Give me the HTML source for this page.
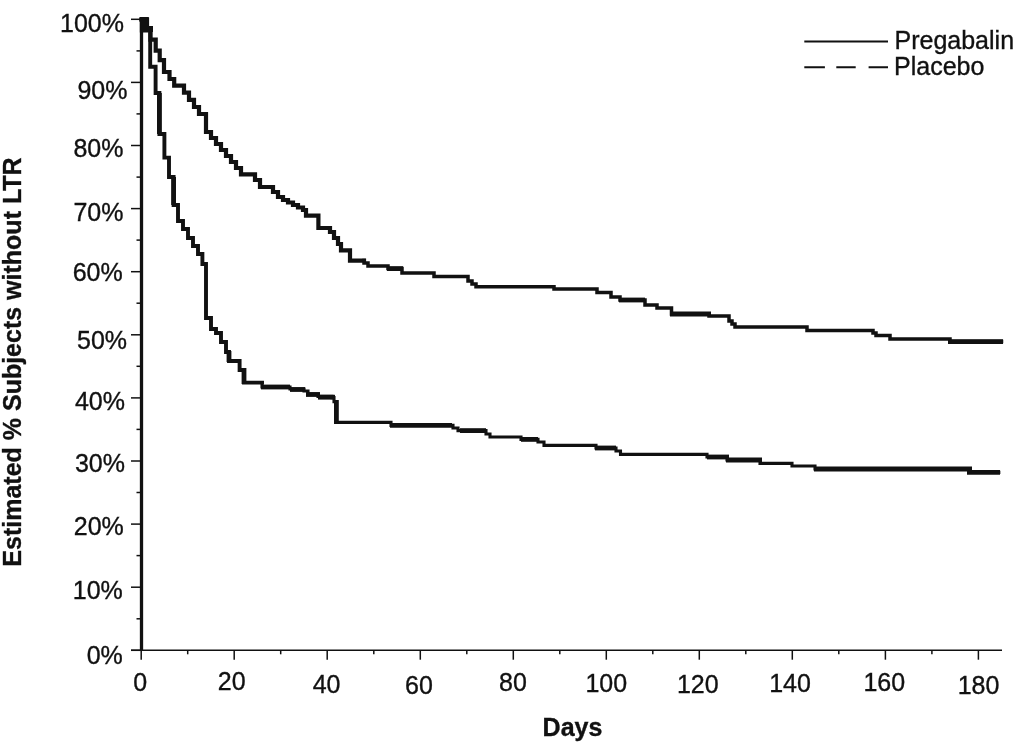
<!DOCTYPE html>
<html lang="en"><head><meta charset="utf-8"><title>Kaplan-Meier: Pregabalin vs Placebo</title>
<style>
html,body{margin:0;padding:0;background:#fff;}
svg{display:block;}
text{font-family:"Liberation Sans",Arial,Helvetica,sans-serif;fill:#111;stroke:#111;stroke-width:0.35px;}
.t{font-size:25px;}
.b{font-size:25px;font-weight:bold;}
</style></head><body>
<svg width="1030" height="742" viewBox="0 0 1030 742">
<rect width="1030" height="742" fill="#fff"/>

<g stroke="#111" fill="none">
<line x1="141.5" y1="18" x2="141.5" y2="651" stroke-width="3.3"/>
<line x1="131" y1="650.3" x2="1002" y2="650.3" stroke-width="1.6"/>
<line x1="131" y1="650.3" x2="141" y2="650.3" stroke-width="1.5"/>
<line x1="136.5" y1="618.8" x2="141" y2="618.8" stroke-width="1.5"/>
<line x1="131" y1="587.2" x2="141" y2="587.2" stroke-width="1.5"/>
<line x1="136.5" y1="555.6" x2="141" y2="555.6" stroke-width="1.5"/>
<line x1="131" y1="524.1" x2="141" y2="524.1" stroke-width="1.5"/>
<line x1="136.5" y1="492.5" x2="141" y2="492.5" stroke-width="1.5"/>
<line x1="131" y1="461.0" x2="141" y2="461.0" stroke-width="1.5"/>
<line x1="136.5" y1="429.4" x2="141" y2="429.4" stroke-width="1.5"/>
<line x1="131" y1="397.9" x2="141" y2="397.9" stroke-width="1.5"/>
<line x1="136.5" y1="366.3" x2="141" y2="366.3" stroke-width="1.5"/>
<line x1="131" y1="334.8" x2="141" y2="334.8" stroke-width="1.5"/>
<line x1="136.5" y1="303.2" x2="141" y2="303.2" stroke-width="1.5"/>
<line x1="131" y1="271.7" x2="141" y2="271.7" stroke-width="1.5"/>
<line x1="136.5" y1="240.1" x2="141" y2="240.1" stroke-width="1.5"/>
<line x1="131" y1="208.6" x2="141" y2="208.6" stroke-width="1.5"/>
<line x1="136.5" y1="177.1" x2="141" y2="177.1" stroke-width="1.5"/>
<line x1="131" y1="145.5" x2="141" y2="145.5" stroke-width="1.5"/>
<line x1="136.5" y1="113.9" x2="141" y2="113.9" stroke-width="1.5"/>
<line x1="131" y1="82.4" x2="141" y2="82.4" stroke-width="1.5"/>
<line x1="136.5" y1="50.9" x2="141" y2="50.9" stroke-width="1.5"/>
<line x1="131" y1="19.3" x2="141" y2="19.3" stroke-width="1.5"/>
<line x1="141.2" y1="650.3" x2="141.2" y2="659.7" stroke-width="1.5"/>
<line x1="187.7" y1="650.3" x2="187.7" y2="654.3" stroke-width="1.5"/>
<line x1="234.2" y1="650.3" x2="234.2" y2="659.7" stroke-width="1.5"/>
<line x1="280.7" y1="650.3" x2="280.7" y2="654.3" stroke-width="1.5"/>
<line x1="327.2" y1="650.3" x2="327.2" y2="659.7" stroke-width="1.5"/>
<line x1="373.8" y1="650.3" x2="373.8" y2="654.3" stroke-width="1.5"/>
<line x1="420.3" y1="650.3" x2="420.3" y2="659.7" stroke-width="1.5"/>
<line x1="466.8" y1="650.3" x2="466.8" y2="654.3" stroke-width="1.5"/>
<line x1="513.3" y1="650.3" x2="513.3" y2="659.7" stroke-width="1.5"/>
<line x1="559.8" y1="650.3" x2="559.8" y2="654.3" stroke-width="1.5"/>
<line x1="606.3" y1="650.3" x2="606.3" y2="659.7" stroke-width="1.5"/>
<line x1="652.8" y1="650.3" x2="652.8" y2="654.3" stroke-width="1.5"/>
<line x1="699.3" y1="650.3" x2="699.3" y2="659.7" stroke-width="1.5"/>
<line x1="745.8" y1="650.3" x2="745.8" y2="654.3" stroke-width="1.5"/>
<line x1="792.3" y1="650.3" x2="792.3" y2="659.7" stroke-width="1.5"/>
<line x1="838.8" y1="650.3" x2="838.8" y2="654.3" stroke-width="1.5"/>
<line x1="885.4" y1="650.3" x2="885.4" y2="659.7" stroke-width="1.5"/>
<line x1="931.9" y1="650.3" x2="931.9" y2="654.3" stroke-width="1.5"/>
<line x1="978.4" y1="650.3" x2="978.4" y2="659.7" stroke-width="1.5"/>
</g>
<g stroke="#111" fill="none" stroke-linejoin="miter" stroke-linecap="square">
<path stroke-width="4.2" d="M141.5,19.5H147V29H150.5V39.7H155.7V50.7H159.7V60.2H164V72H169.5V79H174.2V85.6H184V92.7H189V99.8H194V107H199V114H206V132H211V138H216V144H221V150H226V156H231V162H236V168H241V174.4H255V180H260V187H273V192H278V197H283V200H288V202.5H293V205H298V207.5H303V210H306V215.6H318.4V228H330V232H334V238H338V244H341V250.4H350V260.6H364"/>
<path stroke-width="3.5" d="M364,260.6H364V263H368V266H388V268.6H402V273H434V276.6H468V281H472V284H476V286.8H554V289H597V292.4H611V297H620V300H645V305H657V308H671.5V314H709V316H729V321H732V324H735V327H807V330.4H873V333H876V335.6H890V339H950V341.6H1001.5"/>
<path stroke-width="3.9" d="M141.5,19.5H147V29H150.2V66.7H155.6V93H159.4V134H164.4V157.6H169V177H173.6V205H178V221H183V229H188V238H193V246H198V254H202.4V264H206V318H211V329H216V333H221V342H226V352H229V361H239.6V370H244V382.6H262"/>
<path stroke-width="3.1" d="M262,382.6H262V387H290V389H304V391H308V394H318V396.4H332V397.6H334V401.6H336.4V422.4H391V425.4H453V428H458V430.6H486V434H490V437H521V439.4H538V442H544V445.4H596V448H616V451H620.5V454.4H707V457H727V460H760V463.4H792V466H815V469H969V472.4H998.8"/>
</g>
<rect x="139.8" y="17" width="8.7" height="15.5" fill="#111"/>
<rect x="148" y="26" width="5" height="6" fill="#111"/>
<g stroke="#111" fill="none" stroke-width="4.8">
<path d="M387,268.6H403"/>
<path d="M619,300H645"/>
<path d="M670,314H711"/>
<path d="M948,341.6H1003"/>
<path d="M261,387H290"/>
<path d="M290,389.5H305"/>
<path d="M306,394.5H320"/>
<path d="M318,397.2H335"/>
<path d="M390,425.4H452"/>
<path d="M460,430.6H486"/>
<path d="M521,439.4H538"/>
<path d="M595,448H616"/>
<path d="M707,457H729"/>
<path d="M726,460H762"/>
<path d="M814,469H972"/>
<path d="M967,472.4H1000"/>
<path d="M159.4,93V134"/>
<path d="M173.6,177V205"/>
<path d="M336.4,400V424"/>
<path d="M229,351V362"/>
<path d="M244,368V384"/>
</g>
<text class="t" x="124.0" y="32.3" text-anchor="end">100%</text>
<text class="t" x="127.5" y="99" text-anchor="end">90%</text>
<text class="t" x="123.5" y="157.3" text-anchor="end">80%</text>
<text class="t" x="123.5" y="220.7" text-anchor="end">70%</text>
<text class="t" x="122.7" y="281" text-anchor="end">60%</text>
<text class="t" x="127.1" y="348.5" text-anchor="end">50%</text>
<text class="t" x="125.0" y="409.7" text-anchor="end">40%</text>
<text class="t" x="125.0" y="472" text-anchor="end">30%</text>
<text class="t" x="123.8" y="535.3" text-anchor="end">20%</text>
<text class="t" x="122.8" y="599.4" text-anchor="end">10%</text>
<text class="t" x="122.8" y="664" text-anchor="end">0%</text>
<text class="t" x="140.3" y="691.3" text-anchor="middle">0</text>
<text class="t" x="231.7" y="690" text-anchor="middle">20</text>
<text class="t" x="326.6" y="692.7" text-anchor="middle">40</text>
<text class="t" x="419" y="694" text-anchor="middle">60</text>
<text class="t" x="513" y="691" text-anchor="middle">80</text>
<text class="t" x="606.3" y="691.7" text-anchor="middle">100</text>
<text class="t" x="697.8" y="693.3" text-anchor="middle">120</text>
<text class="t" x="790" y="691.7" text-anchor="middle">140</text>
<text class="t" x="884.3" y="690.5" text-anchor="middle">160</text>
<text class="t" x="978.5" y="693.8" text-anchor="middle">180</text>
<text class="b" x="572.5" y="735.7" text-anchor="middle">Days</text>
<text class="b" transform="translate(20.5,362) rotate(-90)" text-anchor="middle">Estimated % Subjects without LTR</text>
<line x1="804.3" y1="41.6" x2="888" y2="41.6" stroke="#111" stroke-width="2"/>
<path d="M804.3,67.3H824.9M836.3,67.3H855.7M868.6,67.3H888" stroke="#111" stroke-width="2" fill="none"/>
<text x="894.5" y="48.8" style="font-size:25px">Pregabalin</text>
<text x="894" y="75" style="font-size:25px">Placebo</text>
</svg></body></html>
